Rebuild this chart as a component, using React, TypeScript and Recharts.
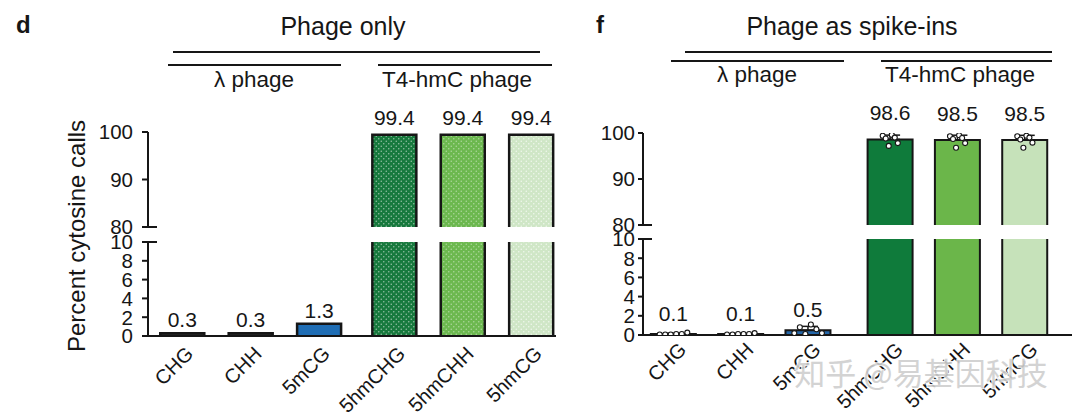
import { ComposedChart, Bar, Scatter, XAxis, YAxis, LabelList, ErrorBar } from "recharts";

// ── Data ───────────────────────────────────────────────────────────

const CATEGORIES = ["CHG", "CHH", "5mCG", "5hmCHG", "5hmCHH", "5hmCG"];
const PHAGE_ONLY = [0.3, 0.3, 1.3, 99.4, 99.4, 99.4];
const SPIKE_IN = [0.1, 0.1, 0.5, 98.6, 98.5, 98.5];
// replicate points shown on the spike-in bars
const SPIKE_IN_REPS = [
  [0.05, 0.05, 0.05, 0.1, 0.1, 0.25],
  [0.05, 0.05, 0.1, 0.1, 0.1, 0.2],
  [0.2, 0.8, 0.1, 1.1, 0.6, 0.2],
  [99.4, 98.8, 97.2, 99.6, 99.0, 97.8],
  [99.3, 98.7, 96.8, 99.5, 98.9, 97.8],
  [99.3, 98.6, 96.8, 99.4, 99.0, 97.9],
];
const TOP_TICKS = [80, 90, 100];
const LOW_TICKS = [0, 2, 4, 6, 8, 10];
const GROUPS = ["λ phage", "T4-hmC phage"];
const TITLES = ["Phage only", "Phage as spike-ins"];
const PANEL_LETTERS = ["d", "f"];
const Y_LABEL = "Percent cytosine calls";
const WATERMARK = "知乎 @易基因科技";

// ── Style ──────────────────────────────────────────────────────────

const FONT = "'Liberation Sans', Arial, sans-serif";
const INK = "#161616";
const TOP_Y = 95;

const FILLS_D = ["#2a2a2a", "#2a2a2a", "#1f6db4", "url(#dotsDark)", "url(#dotsMid)", "url(#dotsLight)"];
const FILLS_F = ["#2a2a2a", "#2a2a2a", "#2466a8", "#0f7b3b", "#6bb64a", "#c6e2ba"];

type Cfg = {
  left: number; width: number; axisX: number; plotRight: number;
  y100: number; y80: number; y10: number; y0: number;
  gap: number; domain: [number, number]; barSize: number; fills: string[];
  stroke: number; tickLen: number; tickGap: number; breakExt: number;
  labTop: number; labLow: number; xdx: number; xdy: number;
  values: number[]; reps?: number[][];
};

const PANEL_D: Cfg = {
  left: 0, width: 560, axisX: 148, plotRight: 556,
  y100: 132, y80: 227, y10: 242, y0: 336,
  gap: 0.1, domain: [-0.504, 5.46], barSize: 44, fills: FILLS_D,
  stroke: 2.5, tickLen: 6, tickGap: 9, breakExt: 9,
  labTop: 10, labLow: 6, xdx: 12, xdy: 19,
  values: PHAGE_ONLY,
};

const PANEL_F: Cfg = {
  left: 560, width: 520, axisX: 643, plotRight: 1072,
  y100: 133, y80: 225, y10: 239, y0: 335,
  gap: 0.22, domain: [-0.453, 5.92], barSize: 45, fills: FILLS_F,
  stroke: 2, tickLen: 5, tickGap: 3, breakExt: 9,
  labTop: 19, labLow: 13, xdx: 14, xdy: 16,
  values: SPIKE_IN, reps: SPIKE_IN_REPS,
};

function sd(a: number[]) {
  const m = a.reduce((s, v) => s + v, 0) / a.length;
  return Math.sqrt(a.reduce((s, v) => s + (v - m) ** 2, 0) / (a.length - 1));
}

// ── Renderers ──────────────────────────────────────────────────────

function barShape(c: Cfg) {
  // eslint-disable-next-line @typescript-eslint/no-explicit-any
  return (p: any) => {
    const { x, y, width, height } = p;
    const idx = p.payload?.idx ?? p.idx ?? 0;
    if (!(height > 0)) return <g />;
    return (
      <g>
        <rect x={x} y={y} width={width} height={height} fill={c.fills[idx]} />
        <path d={`M${x},${y + height} V${y} H${x + width} V${y + height}`} fill="none" stroke={INK} strokeWidth={c.stroke} />
      </g>
    );
  };
}

function valueLabel(off: number, max: number) {
  // eslint-disable-next-line @typescript-eslint/no-explicit-any
  return (p: any) => {
    const v = Number(p.value);
    if (!(v <= max)) return null;
    return (
      <text x={p.x + p.width / 2} y={p.y - off} textAnchor="middle" fontFamily={FONT} fontSize={21} fill={INK}>
        {v.toFixed(1)}
      </text>
    );
  };
}

function yTick(c: Cfg, breakVal: number) {
  // eslint-disable-next-line @typescript-eslint/no-explicit-any
  return (p: any) => {
    const ax = p.x;
    const v = p.payload.value;
    return (
      <g>
        <line x1={ax - c.tickLen} x2={v === breakVal ? ax + c.breakExt : ax} y1={p.y} y2={p.y} stroke={INK} strokeWidth={2} />
        <text x={ax - c.tickLen - c.tickGap} y={p.y} dy="0.36em" textAnchor="end" fontFamily={FONT} fontSize={20.5} fill={INK}>
          {v}
        </text>
      </g>
    );
  };
}

function xTick(c: Cfg, pos: number[]) {
  // eslint-disable-next-line @typescript-eslint/no-explicit-any
  return (p: any) => {
    const i = pos.findIndex((q) => Math.abs(q - p.payload.value) < 1e-6);
    const ax = p.x + c.xdx;
    const ay = p.y + c.xdy;
    return (
      <text x={ax} y={ay} transform={`rotate(-45 ${ax} ${ay})`} textAnchor="end" fontFamily={FONT} fontSize={20} fill={INK}>
        {CATEGORIES[i]}
      </text>
    );
  };
}

// eslint-disable-next-line @typescript-eslint/no-explicit-any
const dot = (p: any) => <circle cx={p.cx} cy={p.cy} r={2.5} fill="#fff" stroke={INK} strokeWidth={1.1} />;

// ── Panel (broken y axis: two stacked charts) ──────────────────────

const PAD = 14; // spare room round the break so tick labels are not cut

function Panel({ c }: { c: Cfg }) {
  const pos = CATEGORIES.map((_, i) => i + (i >= 3 ? c.gap : 0));
  const rows = CATEGORIES.map((cat, i) => ({
    idx: i, cat, pos: pos[i], mean: c.values[i],
    err: c.reps ? [0, sd(c.reps[i])] : 0,
  }));
  const pts = (c.reps ?? []).flatMap((r, i) =>
    r.map((v, j) => ({ pos: pos[i] + (j - (r.length - 1) / 2) * (v >= 80 ? 0.045 : 0.082), v })),
  );
  const topH = c.y80 - TOP_Y + PAD;
  const lowTop = c.y10 - PAD;
  const yw = c.axisX - c.left;
  const mr = c.left + c.width - c.plotRight;
  const axisLine = { stroke: INK, strokeWidth: 2 };

  return (
    <>
      <div style={{ position: "absolute", left: c.left, top: TOP_Y }}>
        <ComposedChart width={c.width} height={topH} data={rows.filter((r) => r.mean >= 80)}
          margin={{ top: c.y100 - TOP_Y, right: mr, bottom: PAD, left: 0 }}>
          <XAxis dataKey="pos" type="number" domain={c.domain} allowDataOverflow hide />
          <XAxis xAxisId="pts" dataKey="pos" type="number" domain={c.domain} allowDataOverflow hide />
          <YAxis type="number" domain={[80, 100]} ticks={TOP_TICKS} allowDataOverflow interval={0} width={yw}
            tickSize={0} tickMargin={0} tickLine={false} axisLine={axisLine} tick={yTick(c, 80)} />
          <Bar dataKey="mean" barSize={c.barSize} shape={barShape(c)} isAnimationActive={false}>
            <LabelList dataKey="mean" content={valueLabel(c.labTop, 100)} />
            {c.reps && <ErrorBar dataKey="err" width={10} strokeWidth={1.5} stroke={INK} direction="y" />}
          </Bar>
          {c.reps && <Scatter xAxisId="pts" data={pts.filter((q) => q.v >= 80)} dataKey="v" shape={dot} isAnimationActive={false} />}
        </ComposedChart>
      </div>
      <div style={{ position: "absolute", left: c.left, top: lowTop }}>
        <ComposedChart width={c.width} height={418 - lowTop} data={rows}
          margin={{ top: PAD, right: mr, bottom: 0, left: 0 }}>
          <XAxis dataKey="pos" type="number" domain={c.domain} allowDataOverflow ticks={pos} interval={0}
            height={418 - c.y0} tickSize={0} tickMargin={0} tickLine={false} axisLine={axisLine} tick={xTick(c, pos)} />
          <XAxis xAxisId="pts" dataKey="pos" type="number" domain={c.domain} allowDataOverflow hide />
          <YAxis type="number" domain={[0, 10]} ticks={LOW_TICKS} allowDataOverflow interval={0} width={yw}
            tickSize={0} tickMargin={0} tickLine={false} axisLine={axisLine} tick={yTick(c, 10)} />
          <Bar dataKey="mean" barSize={c.barSize} shape={barShape(c)} isAnimationActive={false}>
            <LabelList dataKey="mean" content={valueLabel(c.labLow, 10)} />
            {c.reps && <ErrorBar dataKey="err" width={10} strokeWidth={1.5} stroke={INK} direction="y" />}
          </Bar>
          {c.reps && <Scatter xAxisId="pts" data={pts.filter((q) => q.v <= 10)} dataKey="v" shape={dot} isAnimationActive={false} />}
        </ComposedChart>
      </div>
    </>
  );
}

// ── Titles, group brackets, patterns ───────────────────────────────

function Overlay() {
  const line = { stroke: INK, strokeWidth: 2 };
  return (
    <svg width={1080} height={418} style={{ position: "absolute", left: 0, top: 0, pointerEvents: "none" }}
      fontFamily={FONT} fill={INK}>
      <defs>
        <pattern id="dotsDark" width={5} height={5} patternUnits="userSpaceOnUse">
          <rect width={5} height={5} fill="#17793d" />
          <circle cx={1.25} cy={1.25} r={0.75} fill="#fff" opacity={0.55} />
          <circle cx={3.75} cy={3.75} r={0.75} fill="#fff" opacity={0.55} />
        </pattern>
        <pattern id="dotsMid" width={5} height={5} patternUnits="userSpaceOnUse">
          <rect width={5} height={5} fill="#6cb84f" />
          <circle cx={1.25} cy={1.25} r={0.75} fill="#fff" opacity={0.45} />
          <circle cx={3.75} cy={3.75} r={0.75} fill="#fff" opacity={0.45} />
        </pattern>
        <pattern id="dotsLight" width={5} height={5} patternUnits="userSpaceOnUse">
          <rect width={5} height={5} fill="#cfe6c6" />
          <circle cx={1.25} cy={1.25} r={0.75} fill="#fff" opacity={0.7} />
          <circle cx={3.75} cy={3.75} r={0.75} fill="#fff" opacity={0.7} />
        </pattern>
      </defs>

      {/* panel d */}
      <text x={16} y={33} fontSize={24} fontWeight="bold">{PANEL_LETTERS[0]}</text>
      <text x={343} y={35} fontSize={25} textAnchor="middle">{TITLES[0]}</text>
      <line x1={173} x2={540} y1={52} y2={52} {...line} />
      <line x1={168} x2={341} y1={65} y2={65} {...line} />
      <line x1={378} x2={552} y1={65} y2={65} {...line} />
      <text x={254} y={87} fontSize={22.5} textAnchor="middle">{GROUPS[0]}</text>
      <text x={457} y={87} fontSize={22.5} textAnchor="middle">{GROUPS[1]}</text>
      <text transform="translate(85,236) rotate(-90)" fontSize={24} textAnchor="middle">{Y_LABEL}</text>

      {/* panel f */}
      <text x={596} y={33} fontSize={24} fontWeight="bold">{PANEL_LETTERS[1]}</text>
      <text x={852} y={35} fontSize={25} textAnchor="middle">{TITLES[1]}</text>
      <line x1={685} x2={1052} y1={52} y2={52} {...line} />
      <line x1={671} x2={844} y1={61} y2={61} {...line} />
      <line x1={881} x2={1052} y1={61} y2={61} {...line} />
      <text x={757} y={82} fontSize={22.5} textAnchor="middle">{GROUPS[0]}</text>
      <text x={960} y={82} fontSize={22.5} textAnchor="middle">{GROUPS[1]}</text>

      <text x={921} y={385} fontSize={31} textAnchor="middle" fontFamily="'Noto Sans CJK SC'"
        fill="#cfcfcf" stroke="#fff" strokeWidth={2} paintOrder="stroke" opacity={0.9}>
        {WATERMARK}
      </text>
    </svg>
  );
}

export default function App() {
  return (
    <div style={{ position: "absolute", left: 0, top: 0, width: 1080, height: 418, background: "#fff", overflow: "hidden", fontFamily: FONT }}>
      <Panel c={PANEL_D} />
      <Panel c={PANEL_F} />
      <Overlay />
    </div>
  );
}
